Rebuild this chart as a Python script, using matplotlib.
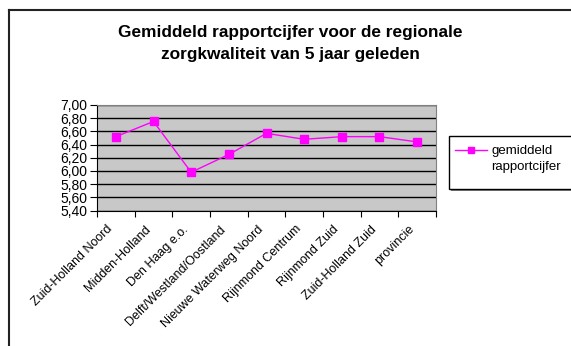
import matplotlib.pyplot as plt
from matplotlib.lines import Line2D
from matplotlib.patches import Rectangle
from matplotlib.ticker import FixedLocator, FuncFormatter
from matplotlib.transforms import ScaledTranslation, blended_transform_factory

plt.rcParams["font.family"] = ["Liberation Sans", "DejaVu Sans"]

regions = [
    "Zuid-Holland Noord",
    "Midden-Holland",
    "Den Haag e.o.",
    "Delft/Westland/Oostland",
    "Nieuwe Waterweg Noord",
    "Rijnmond Centrum",
    "Rijnmond Zuid",
    "Zuid-Holland Zuid",
    "provincie",
]
rapportcijfer = [6.52, 6.75, 5.98, 6.25, 6.57, 6.48, 6.52, 6.52, 6.44]
y_ticks = [5.4, 5.6, 5.8, 6.0, 6.2, 6.4, 6.6, 6.8, 7.0]
series_label = "gemiddeld\nrapportcijfer"

W, H = 571, 346
fig = plt.figure(figsize=(W / 100, H / 100), dpi=100)
ax = fig.add_axes([97 / W, 1 - 210.5 / H, 339 / W, 105.5 / H])

ax.set_facecolor("#C8C8C8")
x = range(len(regions))
ax.plot(x, rapportcijfer, color="#FF00FF", lw=1.0, marker="s",
        ms=5.5, mfc="#FF00FF", mec="#FF00FF", zorder=3)

ax.set_xlim(-0.5, len(regions) - 0.5)
ax.set_ylim(5.4, 7.0)
ax.yaxis.set_major_locator(FixedLocator(y_ticks))
ax.yaxis.set_major_formatter(FuncFormatter(lambda v, _: f"{v:.2f}".replace(".", ",")))
ax.grid(axis="y", color="black", lw=1.0)
ax.set_axisbelow(True)

# category ticks sit between the categories, labels hang under the centres
ax.set_xticks([i - 0.5 for i in range(len(regions) + 1)])
ax.set_xticklabels([])
ax.tick_params(axis="x", length=4, direction="out")
ax.tick_params(axis="y", length=5, direction="out", labelsize=10, pad=2)
label_trans = blended_transform_factory(ax.transData, ax.transAxes) + \
    ScaledTranslation(-5 / 100, -17 / 100, fig.dpi_scale_trans)
for i, name in zip(x, regions):
    ax.text(i, 0, name, transform=label_trans, rotation=45, ha="right",
            va="center", rotation_mode="anchor", fontsize=9)

for side in ("top", "right"):
    ax.spines[side].set_color("#808080")
for side in ("left", "bottom"):
    ax.spines[side].set_color("black")

fig.text(290 / W, 1 - 32 / H, "Gemiddeld rapportcijfer voor de regionale",
         ha="center", va="center", fontsize=12.4, fontweight="bold")
fig.text(290 / W, 1 - 55 / H, "zorgkwaliteit van 5 jaar geleden",
         ha="center", va="center", fontsize=12.4, fontweight="bold")

# legend box, running off the right edge with a thin shadow below
fig.add_artist(Rectangle((451 / W, 1 - 191 / H), 130 / W, 53 / H,
                         transform=fig.transFigure, facecolor="#808080",
                         edgecolor="none"))
fig.add_artist(Rectangle((449 / W, 1 - 189 / H), 130 / W, 53 / H,
                         transform=fig.transFigure, facecolor="white",
                         edgecolor="black", lw=1.0))
fig.add_artist(Line2D([455 / W, 487 / W], [1 - 150 / H, 1 - 150 / H],
                      color="#FF00FF", lw=1.0))
fig.add_artist(Line2D([471 / W], [1 - 150 / H], color="#FF00FF", marker="s",
                      ms=5, mfc="#FF00FF", mec="#FF00FF"))
fig.text(491 / W, 1 - 159 / H, series_label, ha="left", va="center",
         fontsize=9.5, linespacing=1.45)

# chart border: top and left edges
fig.add_artist(Line2D([9 / W, 1], [1 - 10 / H, 1 - 10 / H], color="#222222", lw=1.5))
fig.add_artist(Line2D([9 / W, 9 / W], [1 - 10 / H, 0], color="#222222", lw=1.5))

fig.savefig("out.png", dpi=100)
